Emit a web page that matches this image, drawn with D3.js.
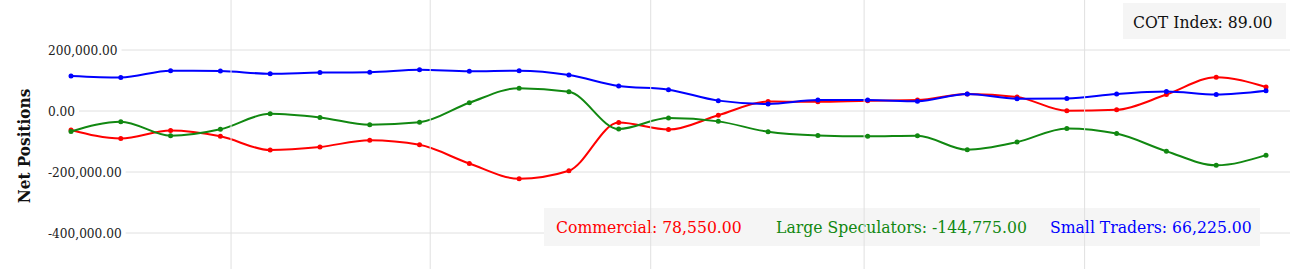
<!DOCTYPE html>
<html>
<head>
<meta charset="utf-8">
<script src="https://cdn.jsdelivr.net/npm/d3@7"></script>
<style>
  body { margin: 0; background: #fff; }
  svg { display: block; font-family: "DejaVu Serif Condensed", "DejaVu Serif", serif; }
  .grid line { stroke: #e0e0e0; stroke-width: 1; }
  .tick-label { font-size: 13.5px; fill: #222; }
</style>
</head>
<body>
<svg id="chart" width="1292" height="269"></svg>
<script>
  // weekly COT report dates
  const dates = [
    '2018-01-09', '2018-01-16', '2018-01-23', '2018-01-30', '2018-02-06',
    '2018-02-13', '2018-02-20', '2018-02-27', '2018-03-06', '2018-03-13',
    '2018-03-20', '2018-03-27', '2018-04-03', '2018-04-10', '2018-04-17',
    '2018-04-24', '2018-05-01', '2018-05-08', '2018-05-15', '2018-05-22',
    '2018-05-29', '2018-06-05', '2018-06-12', '2018-06-19', '2018-06-26'
  ];
  const commercial = [
    -62000, -90000, -64000, -83000, -128000, -118000, -96000, -111000, -172000, -222000,
    -196000, -38000, -61000, -14000, 31000, 30000, 34000, 36000, 56000, 46000,
    1000, 4000, 54000, 111000, 78550
  ];
  const largeSpeculators = [
    -67000, -35000, -81000, -60000, -9000, -21000, -45000, -37000, 27000, 75000,
    63000, -59000, -23000, -34000, -68000, -80000, -83000, -81000, -127000, -102000,
    -57000, -74000, -132000, -178000, -144775
  ];
  const smallTraders = [
    115000, 110000, 132000, 131000, 122000, 126000, 127000, 135000, 130000, 132000,
    118000, 82000, 70000, 34000, 23000, 36000, 36000, 32000, 56000, 40000,
    41000, 56000, 64000, 54000, 66225
  ];
  const yTicks = [200000, 0, -200000, -400000];
  const cotIndex = 89;

  const series = [
    { name: 'Commercial', color: '#ff0000', values: commercial },
    { name: 'Large Speculators', color: '#118811', values: largeSpeculators },
    { name: 'Small Traders', color: '#0000ff', values: smallTraders }
  ];

  const svg = d3.select('#chart');
  const height = +svg.attr('height');

  const parse = d3.utcParse('%Y-%m-%d');
  const when = d => d3.utcHour.offset(parse(d), 12);
  const x = d3.scaleUtc()
    .domain(d3.extent(dates, when))
    .range([71, 1266]);

  const y = d3.scaleLinear()
    .domain([-400000, 200000])
    .range([233, 50]);

  const fmt = d3.formatLocale({ decimal: '.', thousands: ',', grouping: [3], currency: ['', ''], minus: '-' })
    .format(',.2f');

  // horizontal grid
  svg.append('g').attr('class', 'grid')
    .selectAll('line').data(yTicks).enter().append('line')
    .attr('x1', 48).attr('x2', 1290)
    .attr('y1', d => y(d)).attr('y2', d => y(d));

  // y labels sit on a white patch over the grid
  const yl = svg.append('g').selectAll('g').data(yTicks).enter().append('g')
    .attr('transform', d => `translate(48, ${y(d)})`);
  yl.append('text')
    .attr('class', 'tick-label')
    .attr('dy', '0.35em')
    .text(d => fmt(d));
  yl.each(function () {
    const w = d3.select(this).select('text').node().getComputedTextLength();
    d3.select(this).insert('rect', 'text')
      .attr('x', -2).attr('y', -9).attr('width', w + 6).attr('height', 18)
      .attr('fill', '#fff');
  });

  // axis title
  svg.append('text')
    .attr('transform', 'translate(30, 146) rotate(-90)')
    .attr('text-anchor', 'middle')
    .style('font-size', '17px')
    .style('font-weight', 'bold')
    .attr('fill', '#111')
    .text('Net Positions');

  // lines
  const line = d3.line()
    .x((d, i) => x(when(dates[i])))
    .y(d => y(d))
    .curve(d3.curveMonotoneX);

  series.forEach(s => {
    svg.append('path')
      .datum(s.values)
      .attr('fill', 'none')
      .attr('stroke', s.color)
      .attr('stroke-width', 2)
      .attr('d', line);
    svg.append('g').selectAll('circle').data(s.values).enter().append('circle')
      .attr('cx', (d, i) => x(when(dates[i])))
      .attr('cy', d => y(d))
      .attr('r', 2.5)
      .attr('fill', s.color);
  });

  // legend box with latest values
  svg.append('rect')
    .attr('x', 544).attr('y', 208).attr('width', 716).attr('height', 38)
    .attr('fill', '#f5f5f5');
  const legendX = [556, 776, 1050];
  series.forEach((s, i) => {
    svg.append('text')
      .attr('x', legendX[i]).attr('y', 233)
      .attr('fill', s.color)
      .style('font-size', '17.4px')
      .text(`${s.name}: ${fmt(s.values[s.values.length - 1])}`);
  });

  // vertical month grid
  svg.append('g').attr('class', 'grid')
    .selectAll('line').data(x.ticks(d3.utcMonth)).enter().append('line')
    .attr('x1', d => x(d)).attr('x2', d => x(d))
    .attr('y1', 0).attr('y2', height);

  // COT index box
  svg.append('rect')
    .attr('x', 1123).attr('y', 3).attr('width', 163).attr('height', 36)
    .attr('fill', '#f5f5f5');
  svg.append('text')
    .attr('x', 1133).attr('y', 28)
    .attr('fill', '#111')
    .style('font-size', '17.4px')
    .text(`COT Index: ${fmt(cotIndex)}`);
</script>
</body>
</html>
